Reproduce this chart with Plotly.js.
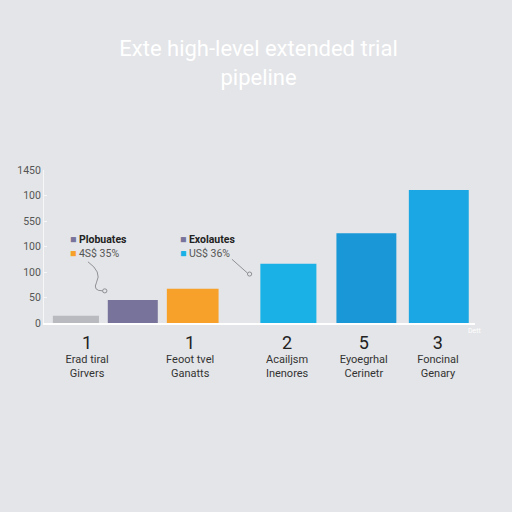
<!DOCTYPE html>
<html>
<head>
<meta charset="utf-8">
<script src="https://cdn.plot.ly/plotly-3.0.1.min.js"></script>
<style>
  html, body { margin: 0; padding: 0; background: #e4e5e8; }
  #chart { width: 512px; height: 512px; }
</style>
</head>
<body>
<div id="chart"></div>
<script>
// bar positions along the x axis and their heights
var barX = [0.74, 2.06, 3.45, 5.67, 7.48, 9.16];
var barValues = [14, 45, 67, 116, 176, 261];

// group labels under the axis
var groupX = [1.0, 3.39, 5.64, 7.42, 9.14];
var groupNumbers = ["1", "1", "2", "5", "3"];
var groupNames = [
  "Erad tiral<br>Girvers",
  "Feoot tvel<br>Ganatts",
  "Acailjsm<br>Inenores",
  "Eyoegrhal<br>Cerinetr",
  "Foncinal<br>Genary"
];

// y ticks as printed
var yTickVals = [0, 50, 100, 150, 200, 250, 300];
var yTickText = ["0", "50", "100", "100", "550", "100", "1450"];

var colors = ["#b9b9c0", "#77739a", "#f7a12a", "#19b1e6", "#1997d7", "#1ba7e3"];
var widths = [1.07, 1.16, 1.2, 1.3, 1.39, 1.39];

var tickText = groupNumbers.map(function (n, i) {
  return "<span style='font-size:18px;color:#222'>" + n + "</span><br>" + groupNames[i];
});

var layout = {
  width: 512,
  height: 512,
  paper_bgcolor: "#e4e5e8",
  plot_bgcolor: "#e4e5e8",
  font: { family: "Roboto, sans-serif", color: "#444" },
  margin: { l: 44, r: 37, t: 170, b: 189 },
  showlegend: false,
  title: {
    text: "Exte high-level extended trial<br>pipeline",
    font: { size: 22, color: "#ffffff" },
    x: 0.505,
    xanchor: "center",
    y: 0.89,
    yanchor: "top",
    yref: "container"
  },
  xaxis: {
    range: [0, 10],
    showgrid: false,
    zeroline: false,
    showline: true,
    linecolor: "#ffffff",
    linewidth: 1.5,
    tickvals: groupX,
    ticktext: tickText,
    ticks: "",
    ticklabelstandoff: 11,
    tickfont: { size: 11, color: "#333" },
    fixedrange: true
  },
  yaxis: {
    range: [0, 300],
    showgrid: false,
    zeroline: false,
    showline: true,
    linecolor: "#f7f7f7",
    linewidth: 1,
    tickvals: yTickVals,
    ticktext: yTickText,
    ticks: "inside",
    ticklen: 3,
    tickcolor: "#f7f7f7",
    tickfont: { size: 10.5, color: "#555" },
    fixedrange: true
  },
  annotations: [
    {
      xref: "paper", yref: "paper", x: 0.055, y: 0.5, xanchor: "left", yanchor: "middle",
      showarrow: false, align: "left",
      text: "<span style='color:#77739a'>■</span> <b>Plobuates</b><br><span style='color:#f7a12a'>■</span> <span style='color:#555'>4S$ 35%</span>",
      font: { size: 10.5, color: "#222" }
    },
    {
      xref: "paper", yref: "paper", x: 0.31, y: 0.5, xanchor: "left", yanchor: "middle",
      showarrow: false, align: "left",
      text: "<span style='color:#77739a'>■</span> <b>Exolautes</b><br><span style='color:#19b1e6'>■</span> <span style='color:#555'>US$ 36%</span>",
      font: { size: 10.5, color: "#222" }
    },
    {
      xref: "paper", yref: "paper", x: 1.0, y: -0.09, xanchor: "center",
      showarrow: false, text: "Dett", font: { size: 7, color: "#ffffff" }
    }
  ],
  shapes: [
    {
      type: "path", xref: "x", yref: "y",
      path: "M 1.02,120 Q 1.35,100 1.22,80 Q 1.12,63 1.36,63",
      line: { color: "#7a7a80", width: 0.8 }
    },
    {
      type: "circle", xref: "x", yref: "y",
      x0: 1.36, x1: 1.46, y0: 59, y1: 67,
      line: { color: "#7a7a80", width: 0.8 }
    },
    {
      type: "line", xref: "x", yref: "y",
      x0: 4.36, y0: 125, x1: 4.72, y1: 98,
      line: { color: "#7a7a80", width: 0.8 }
    },
    {
      type: "circle", xref: "x", yref: "y",
      x0: 4.72, x1: 4.82, y0: 92, y1: 100,
      line: { color: "#7a7a80", width: 0.8 }
    }
  ]
};

Plotly.newPlot("chart", [
  {
    type: "bar",
    x: barX,
    y: barValues,
    width: widths,
    marker: { color: colors },
    hoverinfo: "y"
  }
], layout, { displayModeBar: false, staticPlot: true });
</script>
</body>
</html>
